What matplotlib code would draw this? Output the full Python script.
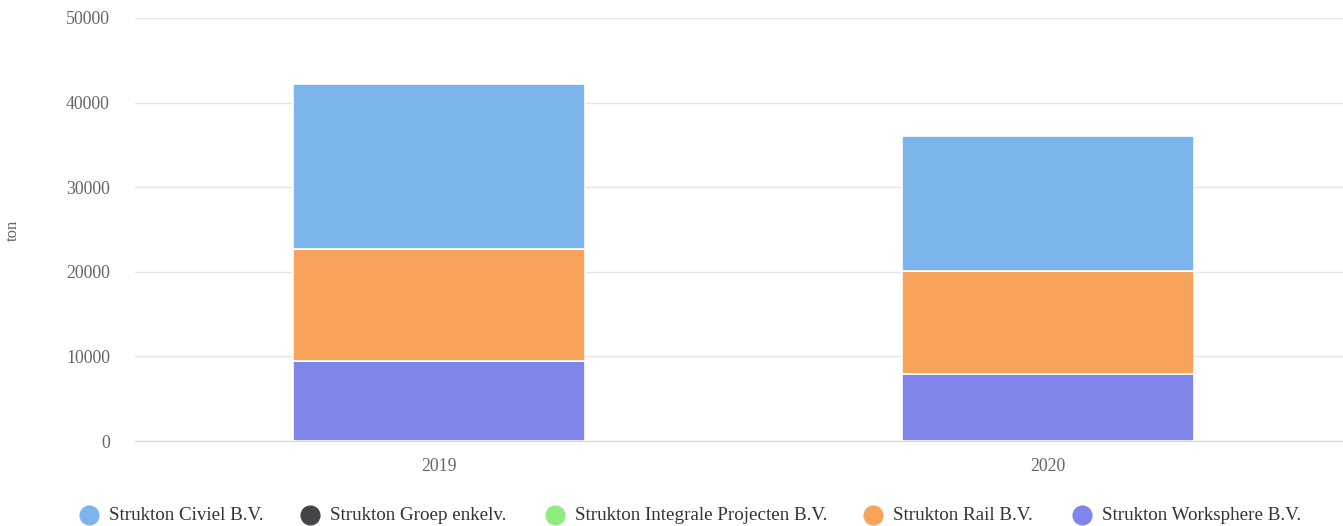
import matplotlib.pyplot as plt
from matplotlib.lines import Line2D

# data (ton)
years = ['2019', '2020']
series = ['Strukton Civiel B.V.', 'Strukton Groep enkelv.', 'Strukton Integrale Projecten B.V.',
          'Strukton Rail B.V.', 'Strukton Worksphere B.V.']
civiel = [19550, 15950]
groep = [0, 0]
integrale = [0, 0]
rail = [13250, 12200]
worksphere = [9450, 7900]
colors = ['#7cb5ec', '#434348', '#90ed7d', '#f7a35c', '#8085e9']

plt.rcParams['font.family'] = ['Liberation Serif', 'DejaVu Serif']

W, H = 1343, 526
fig = plt.figure(figsize=(W / 100, H / 100), dpi=100)
ax = fig.add_axes([135 / W, 1 - 441 / H, (1352 - 135) / W, (441 - 18) / H])

x = list(range(len(years)))
# stack from bottom: worksphere, rail, integrale, groep, civiel
stack = [(worksphere, colors[4]), (rail, colors[3]), (integrale, colors[2]),
         (groep, colors[1]), (civiel, colors[0])]
bottom = [0] * len(years)
for vals, col in stack:
    ax.bar(x, vals, bottom=bottom, width=0.48, color=col, edgecolor='white', linewidth=1.2, zorder=3)
    bottom = [b + v for b, v in zip(bottom, vals)]

ax.set_xlim(-0.5, 1.5)
ax.set_ylim(0, 50000)
ax.set_yticks(range(0, 50001, 10000))
ax.set_xticks(x)
ax.set_xticklabels(years)
ax.grid(axis='y', color='#e6e6e6', linewidth=1, zorder=0)
for s in ['top', 'right', 'left']:
    ax.spines[s].set_visible(False)
ax.spines['bottom'].set_color('#ccd6eb')
ax.tick_params(axis='y', length=0, pad=18, labelsize=12.8, labelcolor='#666666')
ax.tick_params(axis='x', length=0, pad=12, labelsize=12.8, labelcolor='#666666')

fig.text(13 / W, 1 - 230 / H, 'ton', rotation=90, ha='center', va='center', fontsize=12, color='#666666')

# legend laid out like the original, one item after another
legend_x = [89, 310, 555, 873, 1082]
ly = 1 - 515 / H
for px, name, col in zip(legend_x, series, colors):
    fig.add_artist(Line2D([px / W], [ly], marker='o', markersize=13.5, color=col,
                          markeredgecolor=col, linestyle='', transform=fig.transFigure))
    fig.text((px + 20) / W, ly, name, ha='left', va='center', fontsize=13.7, color='#333333')

fig.savefig('out.png', dpi=100)
